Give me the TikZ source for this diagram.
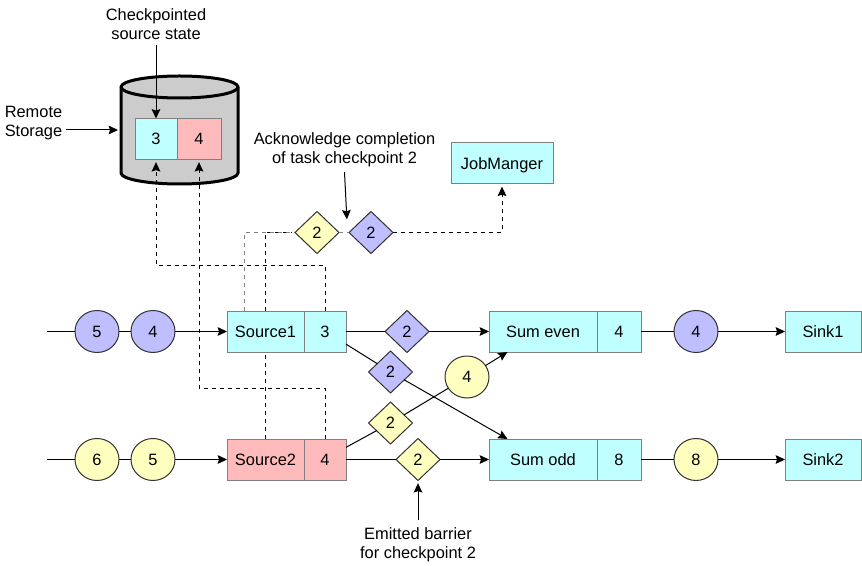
\documentclass[tikz,border=0pt]{standalone}
\usepackage{fontspec}
\setmainfont{Liberation Sans}
\usetikzlibrary{shapes.geometric,arrows.meta,positioning}
\definecolor{tcyan}{HTML}{BFFFFF}
\definecolor{tpink}{HTML}{FFBBBB}
\definecolor{tyell}{HTML}{FFFFC0}
\definecolor{tblue}{HTML}{BFBFFF}
\tikzset{every node/.style={font=\fontsize{12.3}{14.2}\selectfont}}
\tikzstyle{box} = [draw=black!50,line width=.75pt,rectangle,inner sep=0,outer sep=0,minimum height=30.75pt]
\tikzstyle{wide} = [box,minimum width=57.75pt]
\tikzstyle{cell} = [box,minimum width=31.5pt]
\tikzstyle{token} = [draw=black!80,line width=.75pt,ellipse,inner sep=0,outer sep=0,minimum width=33pt,minimum height=31.5pt]
\tikzstyle{barrier} = [draw=black!80,line width=.75pt,diamond,inner sep=0,outer sep=0,minimum width=33pt,minimum height=31.5pt]
\tikzstyle{link} = [-,line width=.75pt]
\tikzstyle{flow} = [link,-{Stealth[length=7pt,width=6.5pt,inset=1pt]}]
\tikzstyle{ack} = [flow,dash pattern=on 3pt off 3pt,shorten >=2pt]
\tikzstyle{ackgray} = [link,black!50,dash pattern=on 3pt off 3pt]
\tikzstyle{note} = [align=center,inner sep=1pt]
\tikzstyle{storage} = [draw=black,line width=2.25pt,fill=black!20]
\def \rimx {43.875pt}
\def \rimy {8.25pt}

\begin{document}
\begin{tikzpicture}[x=0.75pt,y=-0.75pt]
      \useasboundingbox (0,0) rectangle (862,566);
      \draw[storage] (121,87) -- (121,173) arc[start angle=180,end angle=360,x radius=\rimx,y radius=\rimy] -- (238,87) arc[start angle=0,end angle=180,x radius=\rimx,y radius=\rimy] -- cycle;
      \draw[storage,fill=none] (121,87) arc[start angle=180,end angle=360,x radius=\rimx,y radius=\rimy];
      \node[box,fill=tcyan,minimum width=31.5pt] (state3) at (156,139) {3};
      \node[box,fill=tpink,minimum width=33pt,right=0pt of state3] (state4) {4};
      \node[note] (chk) at (156,24) {Checkpointed\\source state};
      \node[note,align=left] (remote) at (33.5,123.5) {Remote\\Storage};
      \node[note] (acknote) at (344.5,149.5) {Acknowledge completion\\of task checkpoint 2};
      \node[note] (emit) at (418,545) {Emitted barrier\\for checkpoint 2};
      \node[box,fill=tcyan,minimum width=76.5pt,text depth=0pt] (job) at (502,163.5) {JobManger};

      \node[wide,fill=tcyan] (src1) at (265.5,331.5) {Source1};
      \node[cell,fill=tcyan,right=0pt of src1] (src1cnt) {3};
      \node[wide,fill=tpink] (src2) at (265.5,459.5) {Source2};
      \node[cell,fill=tpink,right=0pt of src2] (src2cnt) {4};
      \node[box,fill=tcyan,minimum width=81pt] (even) at (543,331.5) {Sum even};
      \node[box,fill=tcyan,minimum width=33pt,right=0pt of even] (evencnt) {4};
      \node[box,fill=tcyan,minimum width=81pt] (odd) at (543,459.5) {Sum odd};
      \node[box,fill=tcyan,minimum width=33pt,right=0pt of odd] (oddcnt) {8};
      \node[box,fill=tcyan,minimum width=57pt] (sink1) at (823,331.5) {Sink1};
      \node[box,fill=tcyan,minimum width=57pt] (sink2) at (823,459.5) {Sink2};

      \node[token,fill=tblue] (a5) at (97,331.5) {5};
      \node[token,fill=tblue] (a4) at (153,331.5) {4};
      \node[token,fill=tyell] (b6) at (97,459.5) {6};
      \node[token,fill=tyell] (b5) at (153,459.5) {5};
      \node[token,fill=tblue] (c4) at (696,331.5) {4};
      \node[token,fill=tyell] (d8) at (696,459.5) {8};
      \node[token,fill=tyell] (y4) at (467,377) {4};

      \node[barrier,fill=tyell] (ackyel) at (317,232.5) {2};
      \node[barrier,fill=tblue] (ackblu) at (371,232.5) {2};
      \node[barrier,fill=tblue] (e2) at (407,331.5) {2};
      \node[barrier,fill=tblue] (x2) at (390.5,372) {2};
      \node[barrier,fill=tyell] (u2) at (390.5,423) {2};
      \node[barrier,fill=tyell] (o2) at (418,459.5) {2};

      \coordinate (ain) at (47,331.5);
      \coordinate (bin) at (47,459.5);
      \coordinate (rstail) at (66,130);
      \coordinate (rshead) at (118,130);

      \draw[link] (ain) -- (a5);
      \draw[link] (a5) -- (a4);
      \draw[flow] (a4) -- (src1);
      \draw[link] (bin) -- (b6);
      \draw[link] (b6) -- (b5);
      \draw[flow] (b5) -- (src2);
      \draw[link] (src1cnt) -- (e2);
      \draw[flow] (e2) -- (even);
      \draw[link] (evencnt) -- (c4);
      \draw[flow] (c4) -- (sink1);
      \draw[link] (src2cnt) -- (o2);
      \draw[flow] (o2) -- (odd);
      \draw[link] (oddcnt) -- (d8);
      \draw[flow] (d8) -- (sink2);
      \draw[link] (src1cnt.-31) -- (x2);
      \draw[flow] (x2) -- (odd.150);
      \draw[link] (src2cnt.30) -- (u2);
      \draw[link] (u2) -- (y4);
      \draw[flow] (y4) -- (even.210);

      \draw[flow] (chk.south) ++(0,4) -- (state3.north);
      \draw[flow] (rstail) -- (rshead);
      \draw[flow,shorten >=2pt] (acknote.south) ++(0,4) -- (347,222);
      \draw[flow,shorten >=2pt] (emit.south |- 0,520) -- (o2.south);

      \draw[ack] (src1cnt.north) -- ++(0,-45.5) -| (state3.south);
      \draw[ack] (src2cnt.north) -- ++(0,-50.5) -| (state4.south);
      \draw[ack,-] (src2.north) -- (src2.north |- src1.south);
      \draw[ack,-] (src1.north) |- (ackyel.west);
      \draw[ackgray] ([xshift=-15.75pt]src1.north) |- (ackyel.west);
      \draw[ackgray] (ackyel.east) -- (ackblu.west);
      \draw[ack] (ackblu.east) -| (job.south);
    \end{tikzpicture}
\end{document}
